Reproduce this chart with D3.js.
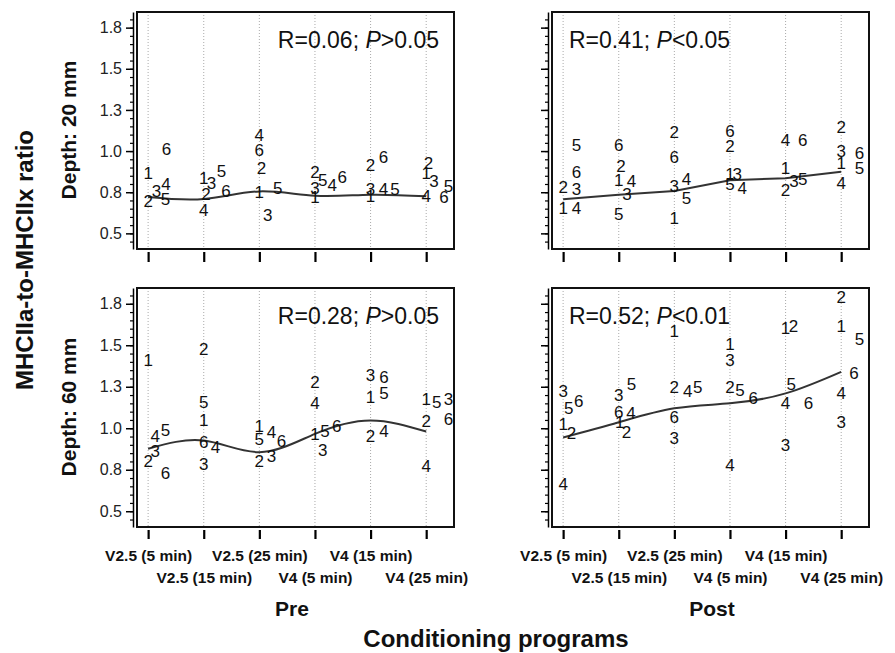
<!DOCTYPE html>
<html>
<head>
<meta charset="utf-8">
<script src="https://cdn.jsdelivr.net/npm/d3@7"></script>
<style>
  body { margin: 0; background: #fff; }
  svg { display: block; font-family: "Liberation Sans", Arial, sans-serif; }
</style>
</head>
<body>
<svg id="chart" width="895" height="653"></svg>
<script>
// conditioning programs on the x axis
const categories = ['V2.5 (5 min)', 'V2.5 (15 min)', 'V2.5 (25 min)', 'V4 (5 min)', 'V4 (15 min)', 'V4 (25 min)'];
const subjects = ['1', '2', '3', '4', '5', '6'];
const yTicks = [0.5, 0.75, 1.0, 1.25, 1.5, 1.75];

// one row per program, one value per subject (1..6)
const pre20Values = [
  [0.866, 0.695, 0.761, 0.801, 0.709, 1.016],
  [0.836, 0.741, 0.805, 0.641, 0.882, 0.761],
  [0.755, 0.896, 0.615, 1.097, 0.775, 1.006],
  [0.721, 0.876, 0.775, 0.795, 0.826, 0.846],
  [0.725, 0.916, 0.769, 0.769, 0.769, 0.966],
  [0.866, 0.930, 0.816, 0.729, 0.791, 0.721]
];
const post20Values = [
  [0.653, 0.782, 0.772, 0.657, 1.040, 0.875],
  [0.823, 0.909, 0.738, 0.819, 0.621, 1.040],
  [0.597, 1.115, 0.788, 0.833, 0.718, 0.964],
  [0.863, 1.030, 0.863, 0.778, 0.802, 1.121],
  [0.899, 0.762, 0.819, 1.071, 0.829, 1.071],
  [0.929, 1.145, 1.004, 0.808, 0.895, 0.986]
];
const pre60Values = [
  [1.412, 0.801, 0.866, 0.956, 0.990, 0.729],
  [1.053, 1.479, 0.785, 0.886, 1.157, 0.916],
  [1.016, 0.805, 0.836, 0.980, 0.936, 0.922],
  [0.966, 1.278, 0.870, 1.151, 0.986, 1.016],
  [1.187, 0.956, 1.324, 0.986, 1.211, 1.308],
  [1.177, 1.043, 1.177, 0.775, 1.157, 1.057]
];
const post60Values = [
  [1.024, 0.970, 1.224, 0.664, 1.120, 1.164],
  [1.036, 0.976, 1.200, 1.090, 1.270, 1.096],
  [1.584, 1.250, 0.944, 1.224, 1.250, 1.070],
  [1.510, 1.250, 1.410, 0.780, 1.230, 1.180],
  [1.604, 1.616, 0.900, 1.150, 1.270, 1.150],
  [1.616, 1.790, 1.036, 1.216, 1.540, 1.336]
];

// horizontal jitter of each subject label, in program units
const pre20Shift = [
  [0, 0, 0.15, 0.32, 0.31, 0.33],
  [0, 0.04, 0.14, 0, 0.32, 0.4],
  [0, 0.04, 0.15, 0, 0.33, 0],
  [0, 0, 0, 0.31, 0.14, 0.49],
  [0, 0, 0, 0.23, 0.44, 0.23],
  [0, 0.04, 0.14, 0, 0.4, 0.32]
];
const post20Shift = [
  [0, 0, 0.24, 0.24, 0.24, 0.24],
  [0, 0.04, 0.15, 0.23, 0, 0],
  [0, 0, 0, 0.22, 0.22, 0],
  [0, 0, 0.13, 0.22, 0, 0],
  [0, 0, 0.15, 0, 0.31, 0.31],
  [0, 0, 0, 0, 0.33, 0.33]
];
const pre60Shift = [
  [0, 0, 0.13, 0.13, 0.31, 0.31],
  [0, 0, 0, 0.21, 0, 0],
  [0, 0, 0.22, 0.22, 0, 0.4],
  [0, 0, 0.14, 0, 0.18, 0.39],
  [0, 0, 0, 0.24, 0.24, 0.24],
  [0, 0, 0.4, 0, 0.19, 0.4]
];
const post60Shift = [
  [0, 0.15, 0, 0, 0.1, 0.28],
  [0.02, 0.14, 0, 0.22, 0.23, 0],
  [0, 0, 0, 0.24, 0.42, 0],
  [0, 0, 0, 0, 0.18, 0.42],
  [0, 0.14, 0, 0, 0.1, 0.41],
  [0, 0, 0, 0, 0.33, 0.23]
];

// fitted trend per program
const pre20Fit = [0.721, 0.709, 0.755, 0.729, 0.735, 0.725];
const post20Fit = [0.708, 0.734, 0.758, 0.823, 0.835, 0.875];
const pre60Fit = [0.876, 0.926, 0.856, 0.966, 1.047, 0.98];
const post60Fit = [0.944, 1.036, 1.12, 1.15, 1.21, 1.34];

const rValues = ['0.06', '0.41', '0.28', '0.52'];
const pTests = ['>0.05', '<0.05', '>0.05', '<0.01'];

const svg = d3.select('#chart');

const colLeft = [137, 552];
const boxW = 317;
const rows = [{top: 12, h: 237}, {top: 288, h: 239}];

const panels = [
  {values: pre20Values, shift: pre20Shift, fit: pre20Fit, col: 0, row: 0, curve: d3.curveNatural},
  {values: post20Values, shift: post20Shift, fit: post20Fit, col: 1, row: 0, curve: d3.curveLinear},
  {values: pre60Values, shift: pre60Shift, fit: pre60Fit, col: 0, row: 1, curve: d3.curveNatural},
  {values: post60Values, shift: post60Shift, fit: post60Fit, col: 1, row: 1, curve: d3.curveNatural}
];

panels.forEach((p, k) => {
  const left = colLeft[p.col], top = rows[p.row].top, h = rows[p.row].h;
  const x = d3.scaleLinear().domain([-0.2, 5.5]).range([left, left + boxW]);
  const y = d3.scaleLinear().domain([0.405, 1.845]).range([top + h, top]);
  const g = svg.append('g');

  g.append('rect')
    .attr('x', left).attr('y', top)
    .attr('width', boxW).attr('height', h)
    .attr('fill', '#fff');

  // dotted guides at each program
  g.selectAll('.grid')
    .data(d3.range(categories.length))
    .enter().append('line')
    .attr('x1', d => x(d)).attr('x2', d => x(d))
    .attr('y1', top).attr('y2', top + h)
    .attr('stroke', '#aaa')
    .attr('stroke-width', 1)
    .attr('stroke-dasharray', '1,2');

  // y axis, major + minor ticks
  const axisX = left - 4;
  const yAxis = g.append('g')
    .attr('transform', `translate(${axisX},0)`)
    .call(d3.axisLeft(y)
      .tickValues(yTicks)
      .tickSize(7)
      .tickSizeOuter(0)
      .tickPadding(4)
      .tickFormat(p.col === 0 ? d3.format('.1f') : ''));
  yAxis.select('.domain').attr('stroke-width', 1.5);
  yAxis.selectAll('.tick line').attr('stroke-width', 1.5);
  yAxis.selectAll('text')
    .attr('font-size', 16)
    .attr('font-family', '"Liberation Sans", Arial, sans-serif')
    .attr('fill', '#222');

  g.append('g')
    .attr('transform', `translate(${axisX},0)`)
    .call(d3.axisLeft(y)
      .tickValues(d3.range(0.45, 1.81, 0.05))
      .tickSize(3)
      .tickFormat(''))
    .call(a => a.select('.domain').remove())
    .selectAll('.tick line').attr('stroke-width', 1.2);

  // x ticks under the box
  const xAxis = g.append('g')
    .attr('transform', `translate(0,${top + h + 3})`)
    .call(d3.axisBottom(x)
      .tickValues(d3.range(categories.length))
      .tickSize(p.row === 0 ? 10 : 9)
      .tickFormat(p.row === 1 ? (i => categories[i]) : ''));
  xAxis.select('.domain').remove();
  xAxis.selectAll('.tick line').attr('stroke-width', 2.2);
  xAxis.selectAll('text')
    .attr('font-size', 15.5)
    .attr('font-weight', 'bold')
    .attr('font-family', '"Liberation Sans", Arial, sans-serif')
    .attr('fill', '#111')
    .attr('y', (d, i) => i % 2 ? 42 : 20);

  // trend line
  g.append('path')
    .datum(p.fit)
    .attr('fill', 'none')
    .attr('stroke', '#333')
    .attr('stroke-width', 2)
    .attr('d', d3.line()
      .x((d, i) => x(i))
      .y(d => y(d))
      .curve(p.curve));

  // subject numbers
  const pts = [];
  p.values.forEach((row, i) => row.forEach((v, j) => {
    pts.push({cat: i, v: v, s: p.shift[i][j], label: subjects[j]});
  }));

  g.selectAll('.num')
    .data(pts)
    .enter().append('text')
    .attr('x', d => x(d.cat + d.s))
    .attr('y', d => y(d.v))
    .attr('dy', '0.36em')
    .attr('text-anchor', 'middle')
    .attr('font-size', 17)
    .attr('fill', '#111')
    .text(d => d.label);

  g.append('rect')
    .attr('x', left).attr('y', top)
    .attr('width', boxW).attr('height', h)
    .attr('fill', 'none')
    .attr('stroke', '#111')
    .attr('stroke-width', 2);

  // correlation text
  const stat = g.append('text')
    .attr('x', p.col === 0 ? left + boxW - 15 : left + 17)
    .attr('y', top + 36)
    .attr('text-anchor', p.col === 0 ? 'end' : 'start')
    .attr('font-size', 23)
    .attr('fill', '#111');
  stat.append('tspan').text('R=' + rValues[k] + '; ');
  stat.append('tspan').attr('font-style', 'italic').text('P');
  stat.append('tspan').text(pTests[k]);
});

// axis titles
svg.append('text')
  .attr('transform', 'translate(33,260) rotate(-90)')
  .attr('text-anchor', 'middle')
  .attr('font-size', 24)
  .attr('font-weight', 'bold')
  .attr('fill', '#111')
  .text('MHCIIa-to-MHCIIx ratio');

[['Depth: 20 mm', 130], ['Depth: 60 mm', 407]].forEach(d => {
  svg.append('text')
    .attr('transform', `translate(76,${d[1]}) rotate(-90)`)
    .attr('text-anchor', 'middle')
    .attr('font-size', 21)
    .attr('font-weight', 'bold')
    .attr('fill', '#111')
    .text(d[0]);
});

[['Pre', 292], ['Post', 712]].forEach(d => {
  svg.append('text')
    .attr('x', d[1]).attr('y', 616)
    .attr('text-anchor', 'middle')
    .attr('font-size', 21)
    .attr('font-weight', 'bold')
    .attr('fill', '#111')
    .text(d[0]);
});

svg.append('text')
  .attr('x', 496).attr('y', 647)
  .attr('text-anchor', 'middle')
  .attr('font-size', 24)
  .attr('font-weight', 'bold')
  .attr('fill', '#111')
  .text('Conditioning programs');
</script>
</body>
</html>
